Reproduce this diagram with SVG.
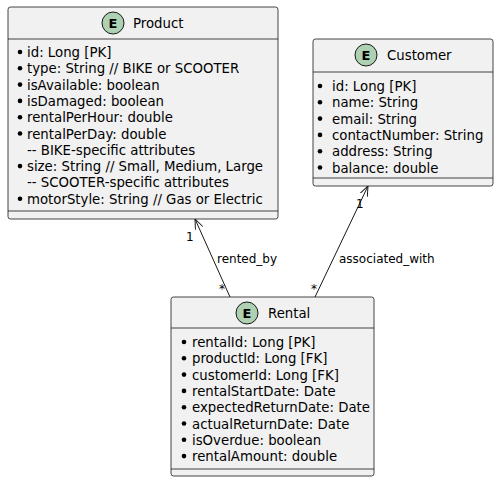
<svg xmlns="http://www.w3.org/2000/svg" width="498" height="482" viewBox="0 0 498 482">
<defs>
<style>
.box{fill:#F1F1F1;stroke:#181818;stroke-width:0.8}
.sep{stroke:#181818;stroke-width:0.8}
.ic{fill:#ADD1B2;stroke:#181818;stroke-width:1}
.e{font-family:"DejaVu Sans",sans-serif;font-size:13px;font-weight:bold;fill:#000;text-anchor:middle}
.t{font-family:"DejaVu Sans",sans-serif;font-size:13.3px;fill:#000}
.b{fill:#000}
.lbl{font-family:"DejaVu Sans",sans-serif;font-size:12px;fill:#000000}
.edge{stroke:#181818;stroke-width:1;fill:none}
</style>
<marker id="arr" markerWidth="12" markerHeight="10" refX="10" refY="4" orient="auto" markerUnits="userSpaceOnUse">
<path d="M0,0 L10,4 L0,8" fill="none" stroke="#181818" stroke-width="1"/>
</marker>
</defs>
<g id="connectors">
<line class="edge" x1="230" y1="297" x2="195" y2="219" marker-end="url(#arr)"/>
<text class="lbl" x="217" y="263">rented_by</text>
<text class="lbl" x="186" y="241">1</text>
<text class="lbl" x="219" y="293">*</text>
<line class="edge" x1="315" y1="297" x2="368" y2="186" marker-end="url(#arr)"/>
<text class="lbl" x="339" y="263">associated_with</text>
<text class="lbl" x="356" y="208">1</text>
<text class="lbl" x="311" y="293">*</text>
</g>
<g id="Product">
<rect class="box" x="8" y="7" width="270" height="212" rx="2.5"/>
<line class="sep" x1="8" y1="39" x2="278" y2="39"/>
<line class="sep" x1="8" y1="211" x2="278" y2="211"/>
<circle class="ic" cx="113" cy="23" r="11"/>
<text class="e" x="113" y="28">E</text>
<text class="t" x="133" y="28">Product</text>
<g class="b"><circle cx="20" cy="52" r="2.3"/><circle cx="20" cy="68.3" r="2.3"/><circle cx="20" cy="84.6" r="2.3"/><circle cx="20" cy="100.9" r="2.3"/><circle cx="20" cy="117.2" r="2.3"/><circle cx="20" cy="133.5" r="2.3"/><circle cx="20" cy="166.1" r="2.3"/><circle cx="20" cy="198.7" r="2.3"/></g>
<text class="t" x="27" y="57">id: Long [PK]</text>
<text class="t" x="27" y="73.3">type: String // BIKE or SCOOTER</text>
<text class="t" x="27" y="89.6">isAvailable: boolean</text>
<text class="t" x="27" y="105.9">isDamaged: boolean</text>
<text class="t" x="27" y="122.2">rentalPerHour: double</text>
<text class="t" x="27" y="138.5">rentalPerDay: double</text>
<text class="t" x="27" y="154.8">-- BIKE-specific attributes</text>
<text class="t" x="27" y="171.1">size: String // Small, Medium, Large</text>
<text class="t" x="27" y="187.4">-- SCOOTER-specific attributes</text>
<text class="t" x="27" y="203.7">motorStyle: String // Gas or Electric</text>
</g>
<g id="Customer">
<rect class="box" x="313" y="39" width="180" height="147" rx="2.5"/>
<line class="sep" x1="313" y1="72" x2="493" y2="72"/>
<line class="sep" x1="313" y1="178" x2="493" y2="178"/>
<circle class="ic" cx="366" cy="55" r="11"/>
<text class="e" x="366" y="60">E</text>
<text class="t" x="387" y="60">Customer</text>
<g class="b"><circle cx="320" cy="86" r="2.3"/><circle cx="320" cy="102.3" r="2.3"/><circle cx="320" cy="118.6" r="2.3"/><circle cx="320" cy="134.9" r="2.3"/><circle cx="320" cy="151.2" r="2.3"/><circle cx="320" cy="167.5" r="2.3"/></g>
<text class="t" x="332" y="91">id: Long [PK]</text>
<text class="t" x="332" y="107.3">name: String</text>
<text class="t" x="332" y="123.6">email: String</text>
<text class="t" x="332" y="139.9">contactNumber: String</text>
<text class="t" x="332" y="156.2">address: String</text>
<text class="t" x="332" y="172.5">balance: double</text>
</g>
<g id="Rental">
<rect class="box" x="171" y="297" width="203" height="179" rx="2.5"/>
<line class="sep" x1="171" y1="328" x2="374" y2="328"/>
<line class="sep" x1="171" y1="469" x2="374" y2="469"/>
<circle class="ic" cx="247" cy="313" r="11"/>
<text class="e" x="247" y="318">E</text>
<text class="t" x="268" y="318">Rental</text>
<g class="b"><circle cx="184" cy="342" r="2.3"/><circle cx="184" cy="358.3" r="2.3"/><circle cx="184" cy="374.6" r="2.3"/><circle cx="184" cy="390.9" r="2.3"/><circle cx="184" cy="407.2" r="2.3"/><circle cx="184" cy="423.5" r="2.3"/><circle cx="184" cy="439.8" r="2.3"/><circle cx="184" cy="456.1" r="2.3"/></g>
<text class="t" x="192" y="347">rentalId: Long [PK]</text>
<text class="t" x="192" y="363.3">productId: Long [FK]</text>
<text class="t" x="192" y="379.6">customerId: Long [FK]</text>
<text class="t" x="192" y="395.9">rentalStartDate: Date</text>
<text class="t" x="192" y="412.2">expectedReturnDate: Date</text>
<text class="t" x="192" y="428.5">actualReturnDate: Date</text>
<text class="t" x="192" y="444.8">isOverdue: boolean</text>
<text class="t" x="192" y="461.1">rentalAmount: double</text>
</g>
</svg>
